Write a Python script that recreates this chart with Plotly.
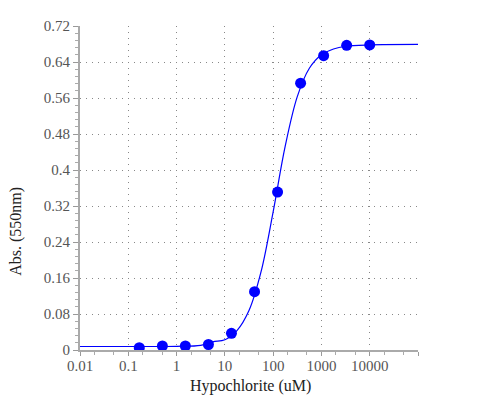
import plotly.graph_objects as go

# Measured points (3-fold dilution series)
conc_uM = [0.169, 0.508, 1.52, 4.57, 13.7, 41.2, 123.5, 370.4, 1111, 3333, 10000]
absorb = [0.0051, 0.0089, 0.0089, 0.0122, 0.037, 0.1296, 0.351, 0.593, 0.654, 0.677, 0.678]

# Fitted curve samples
curve_x = [0.01, 0.1, 1, 3.16, 5.62, 10, 17.8, 31.6, 56.2, 100, 177.8, 316.2, 562.3, 1000, 1778, 3162, 10000, 100000]
curve_y = [0.0078, 0.0078, 0.0082, 0.0104, 0.0182, 0.0227, 0.043, 0.0876, 0.174, 0.307, 0.453, 0.563, 0.626, 0.656, 0.669, 0.675, 0.678, 0.679]

x_tickvals = [0.01, 0.1, 1, 10, 100, 1000, 10000, 100000]
x_ticktext = ["0.01", "0.1", "1", "10", "100", "1000", "10000", ""]
y_tickvals = [0, 0.08, 0.16, 0.24, 0.32, 0.4, 0.48, 0.56, 0.64, 0.72]
y_ticktext = ["0", "0.08", "0.16", "0.24", "0.32", "0.4", "0.48", "0.56", "0.64", "0.72"]

x_title = "Hypochlorite (uM)"
y_title = "Abs. (550nm)"

fig = go.Figure()
fig.add_trace(go.Scatter(x=curve_x, y=curve_y, mode="lines", line=dict(color="#0000ff", width=1.2, shape="spline"),
                         hoverinfo="skip", showlegend=False))
fig.add_trace(go.Scatter(x=conc_uM, y=absorb, mode="markers", marker=dict(color="#0000ff", size=11),
                         showlegend=False))

font = "Liberation Serif, Times New Roman, serif"
fig.update_layout(
    width=500, height=400,
    margin=dict(l=72, r=90, t=18, b=58),
    paper_bgcolor="white", plot_bgcolor="white",
    font=dict(family=font, color="#555", size=15),
    xaxis=dict(type="log", range=[-2, 5], tickvals=x_tickvals, ticktext=x_ticktext, automargin=False,
               showline=True, linecolor="#aaa", linewidth=2, ticks="outside", ticklen=4, tickcolor="#999",
               ticklabelstandoff=-3,
               showgrid=True, gridcolor="#888", griddash="1px,5px", gridwidth=1, zeroline=False,
               minor=dict(ticks="outside", ticklen=3, tickcolor="#aaa", showgrid=False)),
    yaxis=dict(range=[0, 0.72], tickvals=y_tickvals, ticktext=y_ticktext, automargin=False,
               showline=True, linecolor="#aaa", linewidth=2, ticks="outside", ticklen=5, tickcolor="#999",
               showgrid=True, gridcolor="#888", griddash="1px,5px", gridwidth=1, zeroline=False,
               minor=dict(dtick=0.016, ticks="outside", ticklen=3, tickcolor="#aaa", showgrid=False)),
    annotations=[
        dict(text=x_title, xref="paper", yref="paper", x=0.504, y=-0.111, xanchor="center", yanchor="middle",
             showarrow=False, font=dict(family=font, color="#222", size=16)),
        dict(text=y_title, xref="paper", yref="paper", x=-0.19, y=0.367, xanchor="center", yanchor="middle",
             textangle=-90, showarrow=False, font=dict(family=font, color="#222", size=16)),
    ],
)
fig.write_html("out.html")
